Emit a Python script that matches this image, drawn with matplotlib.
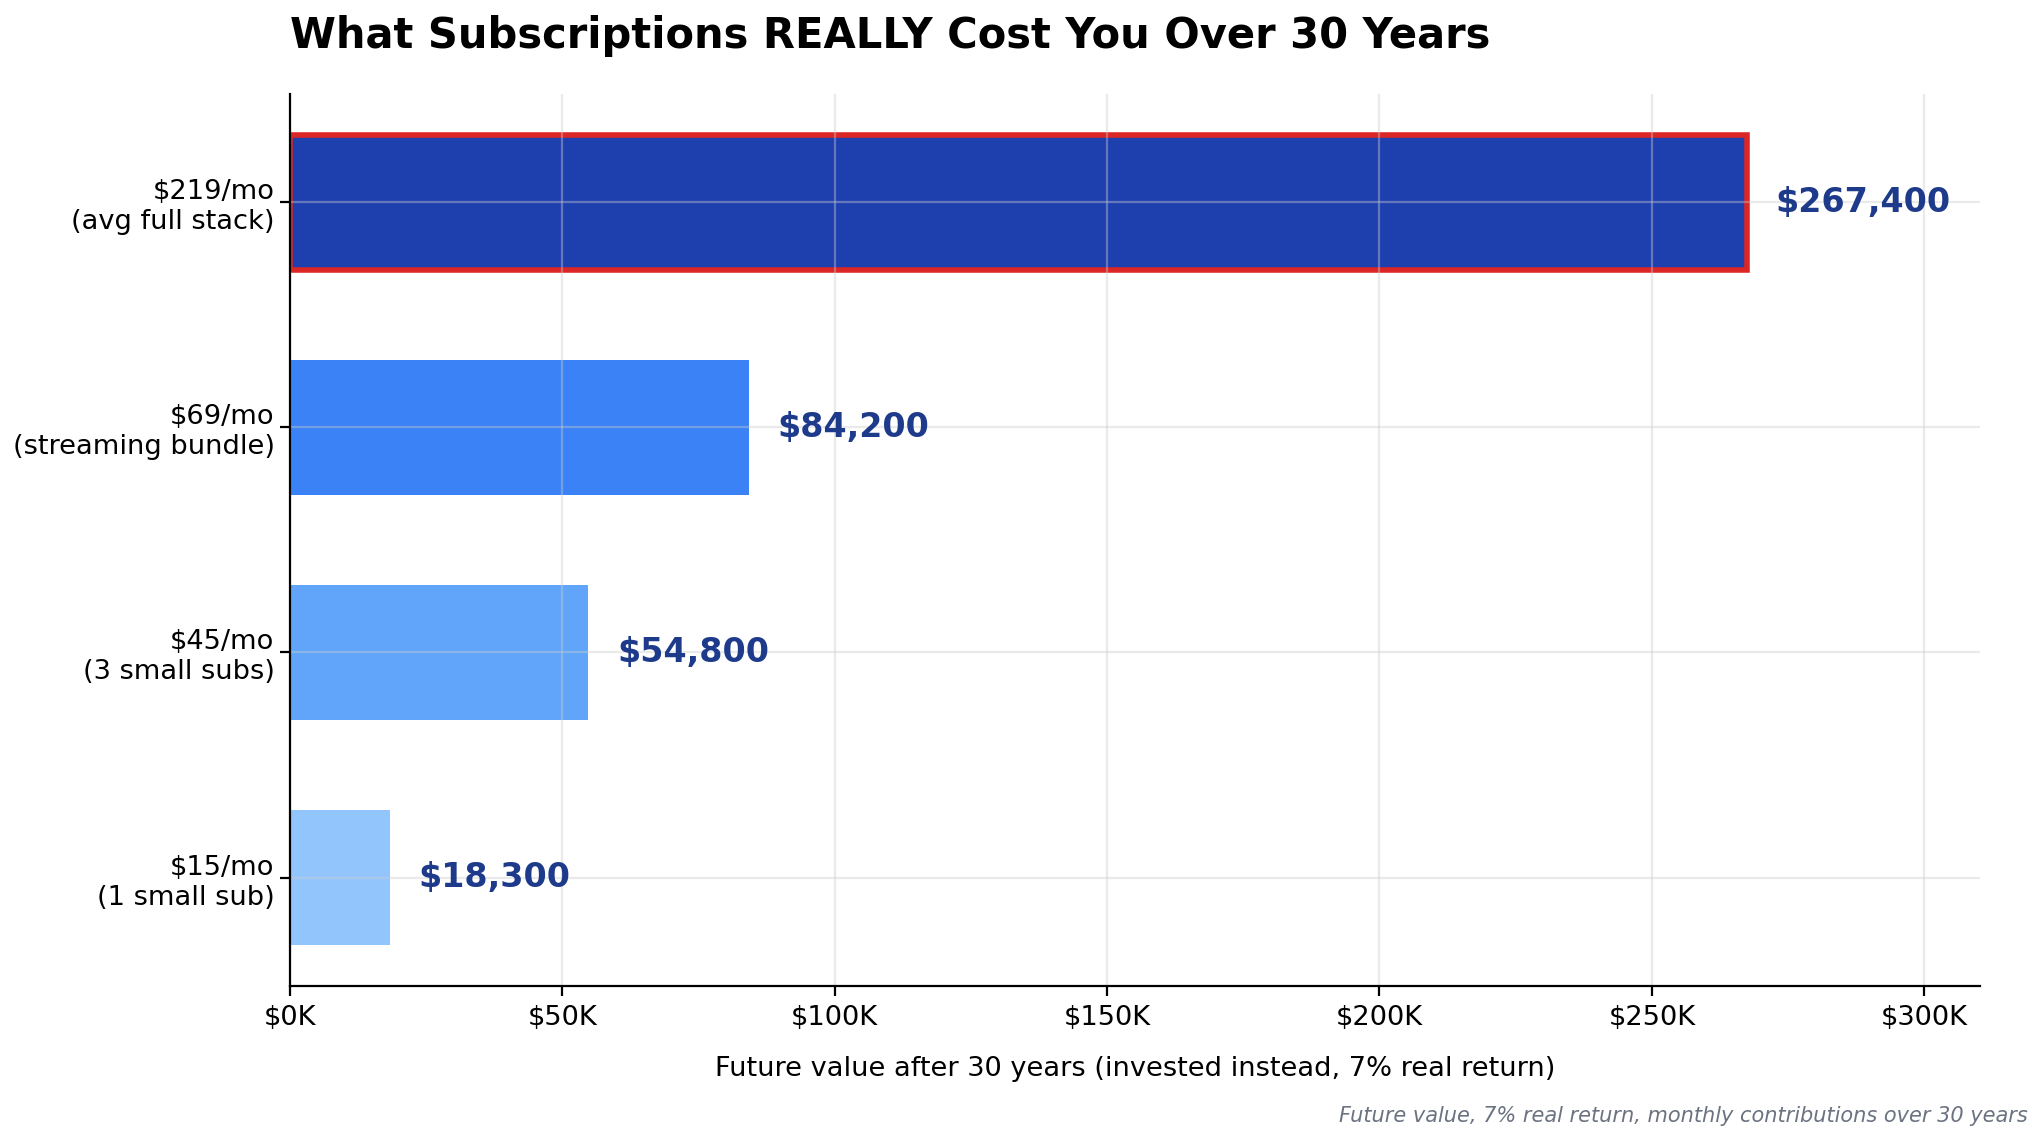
import matplotlib
matplotlib.use("Agg")
import matplotlib.pyplot as plt
from matplotlib.ticker import FuncFormatter

# monthly spend tiers, bottom to top
categories = [
    "$15/mo\n(1 small sub)",
    "$45/mo\n(3 small subs)",
    "$69/mo\n(streaming bundle)",
    "$219/mo\n(avg full stack)",
]
future_values = [18300, 54800, 84200, 267400]
value_labels = ["$18,300", "$54,800", "$84,200", "$267,400"]
bar_colors = ["#93c5fd", "#60a5fa", "#3b82f6", "#1e40af"]

fig = plt.figure(figsize=(10.205, 5.69), dpi=200)
ax = fig.add_axes([0.142, 0.134, 0.828, 0.783])

ypos = list(range(len(categories)))
bars = ax.barh(ypos, future_values, height=0.6, color=bar_colors)
# highlight the full stack bar
bars[-1].set_edgecolor("#dc2626")
bars[-1].set_linewidth(2)

top = max(future_values)
for y, v, lab in zip(ypos, future_values, value_labels):
    ax.text(v + top * 0.02, y, lab, va="center", ha="left",
            fontsize=12, fontweight="bold", color="#1e3a8a")

ax.set_yticks(ypos)
ax.set_yticklabels(categories, fontsize=9.8)
ax.tick_params(axis="y", pad=2)
ax.set_xlim(0, top * 1.16)
ax.xaxis.set_major_formatter(FuncFormatter(lambda x, _: f"${x / 1000:.0f}K"))
ax.tick_params(axis="x", labelsize=9.8)
ax.set_xlabel("Future value after 30 years (invested instead, 7% real return)",
              fontsize=9.8, labelpad=9)
ax.grid(True, color="#cccccc", alpha=0.4, linewidth=0.8)
ax.spines["top"].set_visible(False)
ax.spines["right"].set_visible(False)

fig.text(0.142, 0.968, "What Subscriptions REALLY Cost You Over 30 Years",
         fontsize=15, fontweight="bold", ha="left", va="center")
fig.text(0.9935, 0.019, "Future value, 7% real return, monthly contributions over 30 years",
         fontsize=7.5, style="italic", color="#6b7280", ha="right", va="center")

fig.savefig("out.png", dpi=200)
